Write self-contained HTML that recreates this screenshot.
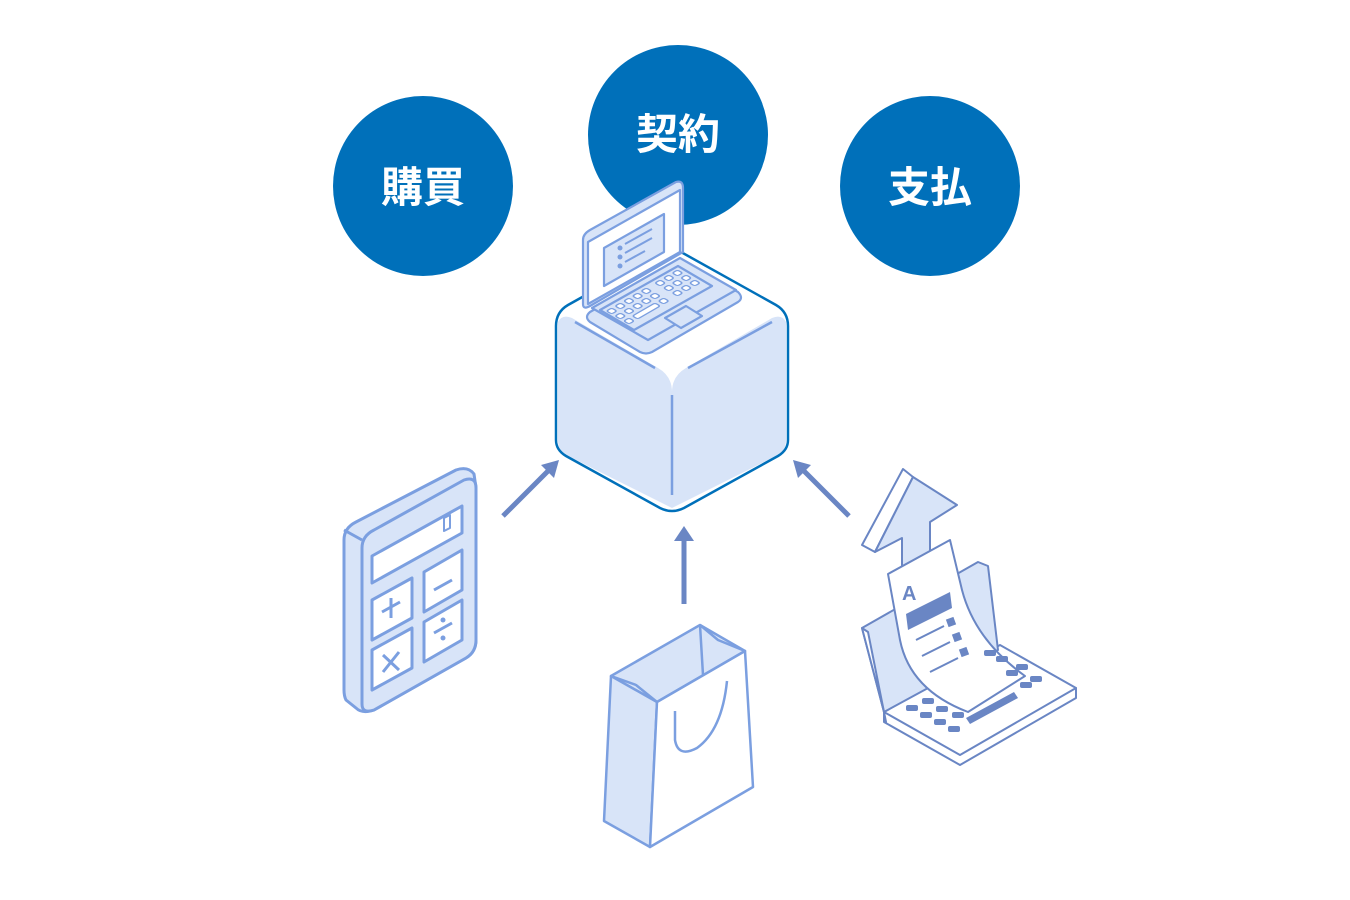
<!DOCTYPE html>
<html><head><meta charset="utf-8"><style>
html,body{margin:0;padding:0;background:#fff;}
svg{display:block}
text{font-family:"Liberation Sans","Noto Sans CJK JP",sans-serif;font-weight:bold;fill:#fff}
</style></head><body>
<svg width="1350" height="900" viewBox="0 0 1350 900" xmlns="http://www.w3.org/2000/svg">
<circle cx="423" cy="186" r="90" fill="#0070BA"/>
<circle cx="678" cy="135" r="90" fill="#0070BA"/>
<circle cx="930" cy="186" r="90" fill="#0070BA"/>
<text x="423" y="202" font-size="42" text-anchor="middle">購買</text>
<text x="678" y="149" font-size="42" text-anchor="middle">契約</text>
<text x="930" y="202" font-size="42" text-anchor="middle">支払</text>

<!-- cube -->
<path d="M672,247 L776,305 Q788,312 788,326 L788,440 Q788,450 778,456 L684,508 Q672,514 660,508 L566,456 Q556,450 556,440 L556,326 Q556,312 568,305 Z" fill="#fff"/>
<path d="M558,322 Q562,314 572,318 L658,368 Q672,376 672,392 L672,508 L566,455 Q558,450 558,440 Z" fill="#D8E4F8"/>
<path d="M786,322 Q782,314 772,318 L686,368 Q672,376 672,392 L672,508 L778,455 Q786,450 786,440 Z" fill="#D8E4F8"/>
<path d="M672,395 L672,495" stroke="#7B9FE0" stroke-width="2.5"/>
<path d="M575,322 L655,368" stroke="#7B9FE0" stroke-width="2.5"/>
<path d="M688,368 L772,322" stroke="#7B9FE0" stroke-width="2.5"/>
<path d="M672,247 L776,305 Q788,312 788,326 L788,440 Q788,450 778,456 L684,508 Q672,514 660,508 L566,456 Q556,450 556,440 L556,326 Q556,312 568,305 Z" fill="none" stroke="#0070BA" stroke-width="2.5"/>

<!-- laptop on cube -->
<g stroke="#7B9FE0" stroke-width="2.2" stroke-linejoin="round">
<path d="M590,312 L680,260 L738,292 Q744,298 738,302 L652,352 Q646,355 640,352 L590,322 Q584,317 590,312 Z" fill="#D8E4F8"/>
<path d="M592,308 L680,258 L736,290 L648,340 Z" fill="#D8E4F8"/>
<path d="M600,310 L678,266 L712,286 L634,330 Z" fill="#D8E4F8"/>
<path d="M665,318 L686,306 L702,316 L681,328 Z" fill="#D8E4F8"/>
<path d="M583,240 Q583,234 590,230 L676,182 Q683,180 683,188 L683,252 L590,306 Q583,310 583,304 Z" fill="#D8E4F8"/>
<path d="M588,242 L680,190 L680,252 L588,304 Z" fill="#fff"/>
<path d="M604,248 L664,214 L664,252 L604,286 Z" fill="#D8E4F8"/>
<path d="M625,244 L652,229 M625,253 L652,238 M625,262 L645,251" stroke-width="2"/>
</g>
<g transform="matrix(0.866,-0.5,0.866,0.5,603,311)" fill="#fff" stroke="#7B9FE0" stroke-width="1.5">
<rect x="2" y="2" width="6" height="6" rx="2"/><rect x="12" y="2" width="6" height="6" rx="2"/><rect x="22" y="2" width="6" height="6" rx="2"/><rect x="32" y="2" width="6" height="6" rx="2"/><rect x="42" y="2" width="6" height="6" rx="2"/><rect x="58" y="2" width="6" height="6" rx="2"/><rect x="68" y="2" width="6" height="6" rx="2"/><rect x="78" y="2" width="6" height="6" rx="2"/>
<rect x="2" y="12" width="6" height="6" rx="2"/><rect x="12" y="12" width="6" height="6" rx="2"/><rect x="22" y="12" width="6" height="6" rx="2"/><rect x="32" y="12" width="6" height="6" rx="2"/><rect x="42" y="12" width="6" height="6" rx="2"/><rect x="58" y="12" width="6" height="6" rx="2"/><rect x="68" y="12" width="6" height="6" rx="2"/><rect x="78" y="12" width="6" height="6" rx="2"/>
<rect x="2" y="22" width="6" height="6" rx="2"/><rect x="12" y="22" width="26" height="6" rx="2"/><rect x="42" y="22" width="6" height="6" rx="2"/><rect x="58" y="22" width="6" height="6" rx="2"/><rect x="68" y="22" width="6" height="6" rx="2"/><rect x="78" y="22" width="6" height="6" rx="2"/>
</g>
<g fill="#7B9FE0">
<circle cx="620" cy="248" r="2.5"/><circle cx="620" cy="257" r="2.5"/><circle cx="620" cy="266" r="2.5"/>
</g>

<!-- arrows -->
<g stroke="#6A86C4" stroke-width="5" fill="#6A86C4">
<line x1="503" y1="516" x2="550" y2="469"/>
<line x1="684" y1="604" x2="684" y2="538"/>
<line x1="849" y1="516" x2="802" y2="469"/>
</g>
<polygon points="559,460 554,478 541,465" fill="#6A86C4"/>
<polygon points="684,526 694,541 674,541" fill="#6A86C4"/>
<polygon points="793,460 798,478 811,465" fill="#6A86C4"/>

<!-- calculator -->
<g stroke="#7B9FE0" stroke-width="3" stroke-linejoin="round" fill="#D8E4F8">
<path d="M344,540 Q344,528 356,522 L456,470 Q468,466 474,474 L476,488 L476,640 Q476,652 466,658 L374,710 Q362,714 356,708 L346,700 Q344,696 344,690 Z"/>
<path d="M362,548 Q362,536 374,530 L464,480 Q476,476 476,488 L476,640 Q476,652 466,658 L374,710 Q362,714 362,704 Z"/>
<path d="M344,530 L362,540"/>
<path d="M372,556 L462,506 L462,533 L372,583 Z" fill="#fff"/>
<path d="M372,600 L412,578 L412,618 L372,640 Z" fill="#fff"/>
<path d="M424,572 L462,550 L462,590 L424,612 Z" fill="#fff"/>
<path d="M372,650 L412,628 L412,668 L372,690 Z" fill="#fff"/>
<path d="M424,622 L462,600 L462,640 L424,662 Z" fill="#fff"/>
<path d="M444,518 L450,515 L450,528 L444,531 Z" fill="#fff" stroke-width="2"/>
<path d="M382,612 L400,602 M391,598 L391,618 M434,590 L452,580 M434,633 L452,623 M383,655 L399,670 M399,652 L383,672" fill="none"/>
</g>
<circle cx="443" cy="620" r="2.5" fill="#7B9FE0"/><circle cx="443" cy="638" r="2.5" fill="#7B9FE0"/>

<!-- bag -->
<g stroke="#7B9FE0" stroke-width="2.5" stroke-linejoin="round">
<path d="M611,676 L700,625 L745,651 L657,702 Z" fill="#D8E4F8"/>
<path d="M611,676 L657,702 L650,847 L604,821 Z" fill="#D8E4F8"/>
<path d="M657,702 L745,651 L753,787 L650,847 Z" fill="#fff"/>
<path d="M611,676 L636,685 L657,702 M700,625 L718,640 L745,651 M700,625 L703,675" fill="none"/>
<path d="M675,711 L675,740 Q678,758 697,748 Q722,730 727,681" fill="none"/>
</g>

<!-- laptop with receipt -->
<g stroke="#6A86C4" stroke-width="2" stroke-linejoin="round">
<path d="M884,712 L1076,688 L1076,698 L960,765 L884,722 Z" fill="#fff"/>
<path d="M884,712 L1000,645 L1076,688 L960,755 Z" fill="#fff"/>
<path d="M862,628 L978,562 L988,566 L998,650 L884,712 Z" fill="#D8E4F8"/>
<path d="M862,628 L868,632 L886,722 L884,712 Z" fill="#fff"/>
<path d="M862,545 L903,469 L913,477 L875,552 Z" fill="#fff"/>
<path d="M875,552 L913,477 L957,505 L930,522 L930,560 L902,575 L902,538 Z" fill="#D8E4F8"/>
<path d="M888,574 L950,540 L962,590 Q975,640 1025,676 L968,712 Q910,690 900,640 Z" fill="#fff"/>
</g>
<g fill="#6A86C4">
<path d="M906,614 L950,592 L952,608 L908,630 Z"/>
<rect x="947" y="618" width="8" height="8" transform="rotate(-20 951 622)"/>
<rect x="953" y="633" width="8" height="8" transform="rotate(-20 957 637)"/>
<rect x="960" y="648" width="8" height="8" transform="rotate(-20 964 652)"/>
<text x="902" y="600" font-size="20" style="fill:#6A86C4">A</text>
<g transform="matrix(0.866,0.5,-0.866,0.5,0,0)"></g>
<rect x="906" y="705" width="12" height="6" rx="2"/><rect x="920" y="712" width="12" height="6" rx="2"/>
<rect x="934" y="719" width="12" height="6" rx="2"/><rect x="948" y="726" width="12" height="6" rx="2"/>
<rect x="922" y="698" width="12" height="6" rx="2"/><rect x="936" y="706" width="12" height="6" rx="2"/>
<rect x="952" y="712" width="12" height="6" rx="2"/>
<path d="M966,718 L1014,692 L1018,698 L970,724 Z"/>
<rect x="1020" y="682" width="12" height="6" rx="2"/><rect x="1030" y="676" width="12" height="6" rx="2"/>
<rect x="1006" y="670" width="12" height="6" rx="2"/><rect x="1016" y="664" width="12" height="6" rx="2"/>
<rect x="996" y="656" width="12" height="6" rx="2"/><rect x="984" y="650" width="12" height="6" rx="2"/>
</g>
<g stroke="#6A86C4" stroke-width="2">
<line x1="916" y1="640" x2="944" y2="626"/><line x1="922" y1="656" x2="950" y2="642"/><line x1="930" y1="672" x2="958" y2="658"/>
</g>
</svg>
</body></html>
